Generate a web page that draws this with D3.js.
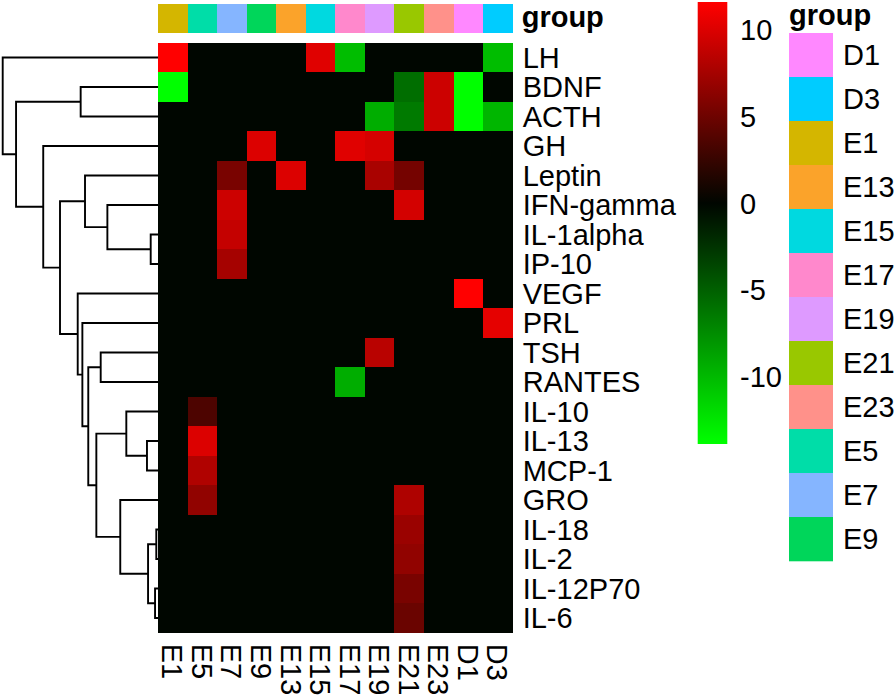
<!DOCTYPE html>
<meta charset="utf-8" />
<style>
  body { margin: 0; background: #fff; }
  text { font-family: "Liberation Sans", Arial, Helvetica, sans-serif; fill: #000; }
</style>
<svg width="896" height="696"></svg>
<script src="https://d3js.org/d3.v7.min.js"></script>
<script>
  // heatmap rows (already in dendrogram order) and columns
  var rowNames = ["LH", "BDNF", "ACTH", "GH", "Leptin", "IFN-gamma", "IL-1alpha", "IP-10",
    "VEGF", "PRL", "TSH", "RANTES", "IL-10", "IL-13", "MCP-1", "GRO", "IL-18", "IL-2", "IL-12P70", "IL-6"];
  var colNames = ["E1", "E5", "E7", "E9", "E13", "E15", "E17", "E19", "E21", "E23", "D1", "D3"];

  // values, one row per gene, columns in colNames order
  var values = [
    [11.6, 0, 0, 0, 0, 10.2, -10.2, 0, 0, 0, 0, -10.2],   // LH
    [-13.9, 0, 0, 0, 0, 0, 0, 0, -5.8, 9.3, -13.9, 0],     // BDNF
    [0, 0, 0, 0, 0, 0, 0, -9.3, -6.5, 9.3, -13.9, -9.8],   // ACTH
    [0, 0, 0, 10.0, 0, 0, 10.2, 9.7, 0, 0, 0, 0],          // GH
    [0, 0, 5.5, 0, 10.0, 0, 0, 7.7, 5.3, 0, 0, 0],         // Leptin
    [0, 0, 9.3, 0, 0, 0, 0, 0, 9.6, 0, 0, 0],              // IFN-gamma
    [0, 0, 8.9, 0, 0, 0, 0, 0, 0, 0, 0, 0],                // IL-1alpha
    [0, 0, 7.5, 0, 0, 0, 0, 0, 0, 0, 0, 0],                // IP-10
    [0, 0, 0, 0, 0, 0, 0, 0, 0, 0, 11.6, 0],               // VEGF
    [0, 0, 0, 0, 0, 0, 0, 0, 0, 0, 0, 10.4],               // PRL
    [0, 0, 0, 0, 0, 0, 0, 8.4, 0, 0, 0, 0],                // TSH
    [0, 0, 0, 0, 0, 0, -9.3, 0, 0, 0, 0, 0],               // RANTES
    [0, 3.5, 0, 0, 0, 0, 0, 0, 0, 0, 0, 0],                // IL-10
    [0, 10.0, 0, 0, 0, 0, 0, 0, 0, 0, 0, 0],               // IL-13
    [0, 8.0, 0, 0, 0, 0, 0, 0, 0, 0, 0, 0],                // MCP-1
    [0, 6.6, 0, 0, 0, 0, 0, 0, 7.9, 0, 0, 0],              // GRO
    [0, 0, 0, 0, 0, 0, 0, 0, 7.0, 0, 0, 0],                // IL-18
    [0, 0, 0, 0, 0, 0, 0, 0, 6.6, 0, 0, 0],                // IL-2
    [0, 0, 0, 0, 0, 0, 0, 0, 5.5, 0, 0, 0],                // IL-12P70
    [0, 0, 0, 0, 0, 0, 0, 0, 4.8, 0, 0, 0]                 // IL-6
  ];

  // row clustering, hclust style: [left, right, height]; strings are leaves, numbers earlier merges
  var merges = [
    ["IL-18", "IL-2", 1.1],        // 0
    ["IL-12P70", "IL-6", 1.9],     // 1
    ["IL-1alpha", "IP-10", 4.7],   // 2
    [0, 1, 6.4],                   // 3
    ["IL-13", "MCP-1", 7.1],       // 4
    ["IL-10", 4, 20.4],            // 5
    ["GRO", 3, 24.3],              // 6
    ["IFN-gamma", 2, 32.6],        // 7
    ["TSH", "RANTES", 36.9],       // 8
    [5, 6, 39.7],                  // 9
    [8, 9, 44.9],                  // 10
    ["Leptin", 7, 47.0],           // 11
    ["PRL", 10, 48.7],             // 12
    ["BDNF", "ACTH", 49.8],        // 13
    ["VEGF", 12, 51.7],            // 14
    [11, 14, 63.1],                // 15
    ["GH", 15, 73.9],              // 16
    [13, 16, 91.4],                // 17
    ["LH", 17, 100]                // 18
  ];

  // column annotation
  var colGroup = colNames.slice();
  var groupLevels = ["D1", "D3", "E1", "E13", "E15", "E17", "E19", "E21", "E23", "E5", "E7", "E9"];
  var groupColors = ["#FF88FF", "#00CCFF", "#D4B600", "#FBA32A", "#00D9E0", "#FF88CC",
    "#DE9AFF", "#99C800", "#FF918A", "#00DDA8", "#85B5FF", "#00D65A"];

  var legendTicks = [10, 5, 0, -5, -10];
  var vMin = -13.9, vMax = 11.6;

  var svg = d3.select("svg");

  var hmLeft = 158, hmRight = 512.7, hmTop = 42.7, hmBottom = 632.7;
  var fs = "29px";

  var x = d3.scaleBand().domain(colNames).range([hmLeft, hmRight]);
  var y = d3.scaleBand().domain(rowNames).range([hmTop, hmBottom]);
  var color = d3.scaleLinear().domain([vMin, 0, vMax]).range(["#00ff00", "#000600", "#ff0000"]);
  var groupColor = d3.scaleOrdinal().domain(groupLevels).range(groupColors);

  // cells
  var cells = [];
  values.forEach(function(row, i) {
    row.forEach(function(v, j) {
      cells.push({ row: rowNames[i], col: colNames[j], value: v });
    });
  });

  svg.append("g")
    .attr("shape-rendering", "crispEdges")
    .selectAll("rect")
    .data(cells)
    .enter()
    .append("rect")
    .attr("x", d => x(d.col))
    .attr("y", d => y(d.row))
    .attr("width", x.bandwidth() + 0.5)
    .attr("height", y.bandwidth() + 0.5)
    .attr("fill", d => color(d.value));

  // top annotation bar
  svg.append("g")
    .attr("shape-rendering", "crispEdges")
    .selectAll("rect")
    .data(colGroup)
    .enter()
    .append("rect")
    .attr("x", (d, i) => x(colNames[i]))
    .attr("y", 4)
    .attr("width", x.bandwidth() + 0.5)
    .attr("height", 29)
    .attr("fill", d => groupColor(d));

  svg.append("text")
    .attr("x", hmRight + 9)
    .attr("y", 27)
    .style("font-size", fs)
    .style("font-weight", "bold")
    .text("group");

  // row labels
  svg.append("g")
    .selectAll("text")
    .data(rowNames)
    .enter()
    .append("text")
    .attr("x", hmRight + 10)
    .attr("y", d => y(d) + y.bandwidth() / 2)
    .attr("dy", "0.36em")
    .style("font-size", fs)
    .text(d => d);

  // column labels, rotated
  svg.append("g")
    .selectAll("text")
    .data(colNames)
    .enter()
    .append("text")
    .attr("transform", d => "translate(" + (x(d) + x.bandwidth() / 2) + "," + (hmBottom + 11) + ") rotate(90)")
    .attr("dy", "0.36em")
    .style("font-size", fs)
    .text(d => d);

  // dendrogram
  var nodes = merges.map(function(m) { return { left: m[0], right: m[1], height: m[2] }; });
  var h = d3.scaleLinear().domain([0, 100]).range([hmLeft, 2.7]);

  function pos(ref) {
    if (typeof ref === "string") return { x: h(0), y: y(ref) + y.bandwidth() / 2 };
    var n = nodes[ref];
    if (!n.pos) {
      var a = pos(n.left), b = pos(n.right);
      n.a = a; n.b = b;
      n.pos = { x: h(n.height), y: (a.y + b.y) / 2 };
    }
    return n.pos;
  }
  pos(nodes.length - 1);

  var dend = svg.append("g")
    .attr("fill", "none")
    .attr("stroke", "#000")
    .attr("stroke-width", 1.9);

  dend.selectAll("path")
    .data(nodes)
    .enter()
    .append("path")
    .attr("d", function(n) {
      return "M" + n.a.x + "," + n.a.y + "H" + n.pos.x + "V" + n.b.y + "H" + n.b.x;
    });

  // colour key
  var barTop = 2, barBottom = 444, barX = 697.7, barW = 29.6;
  var key = d3.scaleLinear().domain([vMin, vMax]).range([barBottom, barTop]);

  var grad = svg.append("defs").append("linearGradient")
    .attr("id", "key")
    .attr("x1", 0).attr("y1", 1).attr("x2", 0).attr("y2", 0);
  grad.append("stop").attr("offset", 0).attr("stop-color", color(vMin));
  grad.append("stop").attr("offset", (0 - vMin) / (vMax - vMin)).attr("stop-color", color(0));
  grad.append("stop").attr("offset", 1).attr("stop-color", color(vMax));

  svg.append("rect")
    .attr("x", barX)
    .attr("y", barTop)
    .attr("width", barW)
    .attr("height", barBottom - barTop)
    .attr("fill", "url(#key)");

  svg.append("g")
    .selectAll("text")
    .data(legendTicks)
    .enter()
    .append("text")
    .attr("x", 740)
    .attr("y", d => key(d))
    .attr("dy", "0.36em")
    .style("font-size", fs)
    .text(d => d);

  // group legend
  svg.append("text")
    .attr("x", 789)
    .attr("y", 25)
    .style("font-size", fs)
    .style("font-weight", "bold")
    .text("group");

  var lg = svg.append("g")
    .selectAll("g")
    .data(groupLevels)
    .enter()
    .append("g")
    .attr("transform", (d, i) => "translate(789," + (33 + i * 44) + ")");

  lg.append("rect")
    .attr("width", 44)
    .attr("height", 44.3)
    .attr("fill", d => groupColor(d));

  lg.append("text")
    .attr("x", 54)
    .attr("y", 22)
    .attr("dy", "0.36em")
    .style("font-size", fs)
    .text(d => d);
</script>
